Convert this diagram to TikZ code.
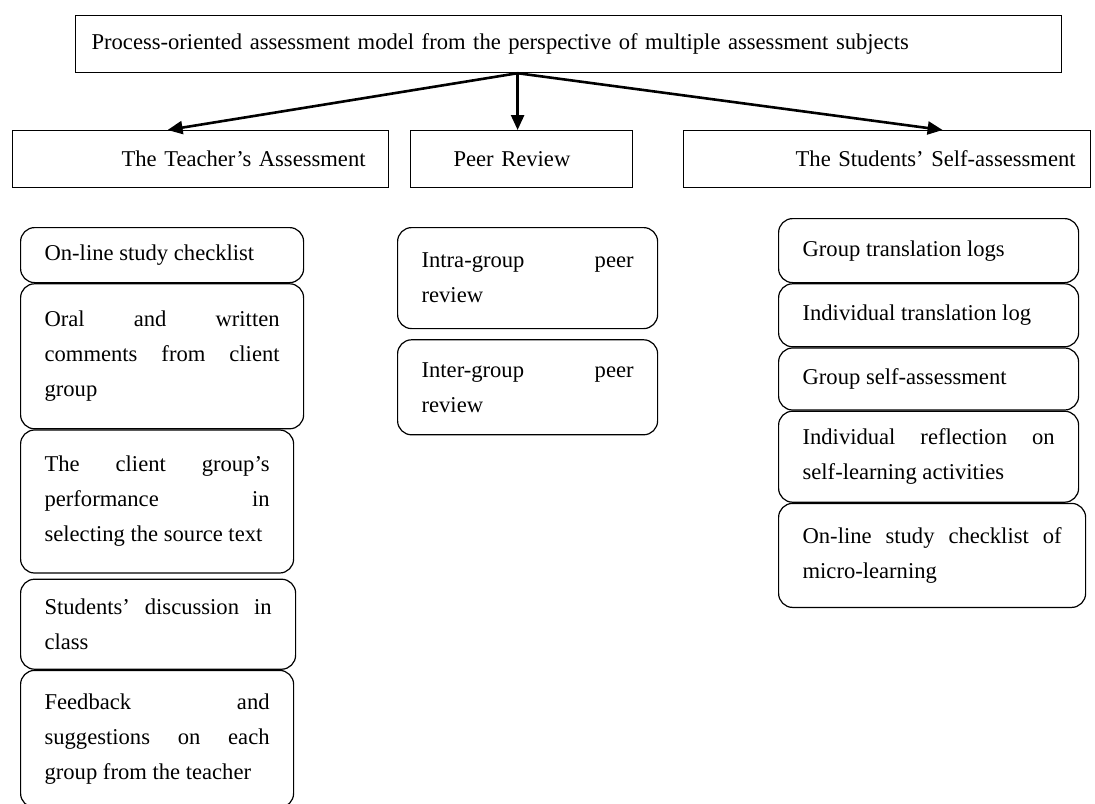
\documentclass[tikz,border=0pt]{standalone}
\usepackage{fontspec}
\setmainfont{Liberation Serif}
\usetikzlibrary{arrows.meta,positioning}
\hyphenpenalty=10000
\exhyphenpenalty=10000
\tolerance=10000

\tikzset{
  box/.style={draw,line width=0.6pt,anchor=north west,inner ysep=0pt,
    font=\fontsize{11.3}{17.5}\selectfont},
  item/.style={box,rounded corners=7pt,align=justify,inner xsep=12pt},
  link/.style={-{Triangle[length=7.5pt,width=6.5pt]},line width=1.3pt}
}

\begin{document}
\begin{tikzpicture}[x=0.5pt,y=-0.5pt]
\useasboundingbox (0,0) rectangle (1095,803);
% top level
\node[box,align=left,inner xsep=8pt,text width=477pt,minimum height=28.5pt] (top) at (75,15)
  {Process-oriented assessment model from the perspective of multiple assessment subjects};
% the three assessment subjects
\node[box,align=right,inner xsep=11.5pt,text width=165pt,minimum height=28.5pt] (teacher) at (12,130)
  {The Teacher’s Assessment};
\node[box,align=left,inner xsep=21.5pt,text width=68pt,minimum height=28.5pt] (peer) at (410,130)
  {Peer Review};
\node[box,align=right,inner xsep=7.5pt,text width=188.5pt,minimum height=28.5pt] (students) at (683,130)
  {The Students’ Self-assessment};
\coordinate (fork) at ([xshift=-25.5pt]top.south);
\draw[link] (fork) -- ([xshift=-16.5pt]teacher.north);
\draw[link] (fork) -- ([xshift=-2pt]peer.north);
\draw[link] (fork) -- ([xshift=27.75pt]students.north);
% teacher column
\node[item,text width=117.5pt,minimum height=27.5pt] (t1) at (20,227) {On-line study checklist};
\node[item,text width=117.5pt,minimum height=72.5pt,below=0pt of t1.south west,anchor=north west] (t2)
  {Oral and written\linebreak comments from client\linebreak group};
\node[item,text width=112.5pt,minimum height=71.5pt,below=0pt of t2.south west,anchor=north west] (t3)
  {The client group’s\linebreak performance in\linebreak \mbox{selecting the source text}};
\node[item,text width=113.5pt,minimum height=45pt,below=2.5pt of t3.south west,anchor=north west] (t4)
  {Students’ discussion in\linebreak class};
\node[item,text width=112.5pt,minimum height=68.5pt,below=0pt of t4.south west,anchor=north west] (t5)
  {Feedback and\linebreak suggestions on each\linebreak group from the teacher};
% peer column
\node[item,text width=106pt,minimum height=50.5pt] (p1) at (397,227) {Intra-group peer\linebreak review};
\node[item,text width=106pt,minimum height=47.5pt,below=5pt of p1.south west,anchor=north west] (p2)
  {Inter-group peer\linebreak review};
% students column
\node[item,text width=126pt,minimum height=32pt] (s1) at (778,218) {Group translation logs};
\node[item,text width=126pt,minimum height=31.5pt,below=0pt of s1.south west,anchor=north west] (s2)
  {Individual translation log};
\node[item,text width=126pt,minimum height=31pt,below=0pt of s2.south west,anchor=north west] (s3)
  {Group self-assessment};
\node[item,text width=126pt,minimum height=45.5pt,below=0pt of s3.south west,anchor=north west] (s4)
  {Individual reflection on\linebreak self-learning activities};
\node[item,text width=129.5pt,minimum height=52pt,below=0pt of s4.south west,anchor=north west] (s5)
  {On-line study checklist of\linebreak micro-learning};
\end{tikzpicture}
\end{document}
